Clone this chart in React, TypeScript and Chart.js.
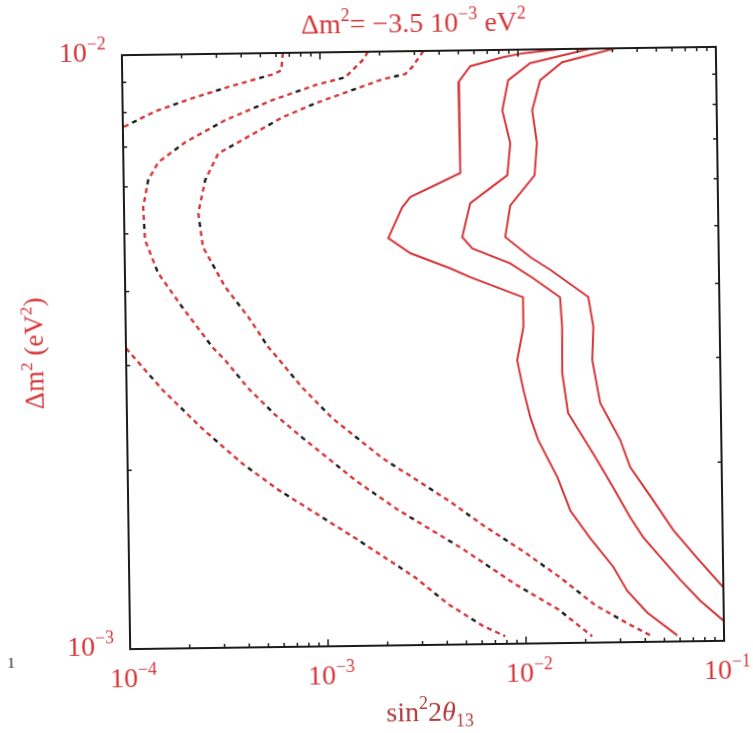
import React, { useEffect, useRef } from "react";
import { Chart, registerables } from "chart.js";

Chart.register(...registerables);

// Axis ranges and decade ticks
const X_MIN = 1e-4;
const X_MAX = 1e-1;
const Y_MIN = 1e-3;
const Y_MAX = 1e-2;
const xTickValues = [1e-4, 1e-3, 1e-2, 1e-1];
const xTickExponents = ["−4", "−3", "−2", "−1"];
const yTickValues = [1e-3, 1e-2];
const yTickExponents = ["−3", "−2"];

// Dashed contours: [sin^2 2θ13, Δm^2]
const dashedOuterTop: [number, number][] = [
  [6.5e-4, 1e-2], [6.37e-4, 9.35e-3], [5.79e-4, 9.21e-3], [3.51e-4, 8.81e-3],
  [2.25e-4, 8.43e-3], [1.46e-4, 8.03e-3], [1e-4, 7.56e-3],
];
const dashedOuterBottom: [number, number][] = [
  [1e-4, 3.21e-3], [1.53e-4, 2.72e-3], [2.4e-4, 2.34e-3], [3.8e-4, 2.04e-3],
  [5.74e-4, 1.84e-3], [1.39e-3, 1.52e-3], [2.78e-3, 1.3e-3], [4.07e-3, 1.17e-3],
  [6.02e-3, 1.075e-3], [7.85e-3, 1.03e-3],
];
const dashedMiddle: [number, number][] = [
  [1.75e-3, 1e-2], [1.64e-3, 9.68e-3], [1.34e-3, 9.07e-3], [9.43e-4, 8.81e-3],
  [5.7e-4, 8.33e-3], [3.29e-4, 7.73e-3], [2.06e-4, 7.11e-3], [1.5e-4, 6.59e-3],
  [1.33e-4, 6.15e-3], [1.25e-4, 5.54e-3], [1.27e-4, 4.88e-3], [1.47e-4, 4.29e-3],
  [1.94e-4, 3.75e-3], [2.73e-4, 3.21e-3], [3.16e-4, 3.05e-3], [4.12e-4, 2.73e-3],
  [5.61e-4, 2.46e-3], [7.65e-4, 2.25e-3], [1.41e-3, 1.9e-3], [2.31e-3, 1.69e-3],
  [4.83e-3, 1.45e-3], [8.89e-3, 1.26e-3], [1.46e-2, 1.14e-3], [2.16e-2, 1.025e-3],
];
const dashedInner: [number, number][] = [
  [3.33e-3, 1e-2], [2.92e-3, 9.4e-3], [2.69e-3, 9.15e-3], [2.06e-3, 8.98e-3],
  [9.4e-4, 8.21e-3], [6.39e-4, 7.79e-3], [4.0e-4, 7.15e-3], [3.02e-4, 6.8e-3],
  [2.58e-4, 6.13e-3], [2.37e-4, 5.4e-3], [2.49e-4, 4.73e-3], [3.2e-4, 4.05e-3],
  [4.17e-4, 3.6e-3], [5.23e-4, 3.2e-3], [5.86e-4, 3.06e-3], [7.72e-4, 2.73e-3],
  [1.09e-3, 2.42e-3], [1.93e-3, 2.07e-3], [4.14e-3, 1.75e-3], [6.19e-3, 1.585e-3],
  [9.82e-3, 1.43e-3], [1.5e-2, 1.29e-3], [2.25e-2, 1.156e-3], [3.25e-2, 1.076e-3],
  [4.24e-2, 1.026e-3],
];

// Solid contours
const solidInner: [number, number][] = [
  [1.64e-2, 1e-2], [1.06e-2, 9.86e-3], [8.43e-3, 9.72e-3], [5.73e-3, 9.4e-3],
  [4.98e-3, 8.84e-3], [5.02e-3, 6.22e-3], [2.8e-3, 5.68e-3], [2.54e-3, 5.46e-3],
  [2.15e-3, 4.85e-3], [2.77e-3, 4.57e-3], [4.4e-3, 4.3e-3], [5.55e-3, 4.15e-3],
  [1.02e-2, 3.83e-3], [1.02e-2, 3.41e-3], [9.44e-3, 3.0e-3], [1.01e-2, 2.67e-3],
  [1.09e-2, 2.4e-3], [1.19e-2, 2.2e-3], [1.48e-2, 1.9e-3], [1.71e-2, 1.67e-3],
  [2.14e-2, 1.5e-3], [2.79e-2, 1.34e-3], [3.27e-2, 1.22e-3], [4.11e-2, 1.12e-3],
  [5.81e-2, 1.024e-3],
];
const solidMiddle: [number, number][] = [
  [2.32e-2, 1e-2], [1.15e-2, 9.48e-3], [8.9e-3, 8.89e-3], [8.26e-3, 7.91e-3],
  [9.02e-3, 6.96e-3], [8.67e-3, 6.15e-3], [5.61e-3, 5.53e-3], [5.08e-3, 4.85e-3],
  [5.7e-3, 4.64e-3], [8.84e-3, 4.37e-3], [1.15e-2, 4.12e-3], [1.57e-2, 3.82e-3],
  [1.6e-2, 3.4e-3], [1.59e-2, 2.85e-3], [1.69e-2, 2.44e-3], [2.25e-2, 2.08e-3],
  [2.83e-2, 1.82e-3], [3.43e-2, 1.62e-3], [3.97e-2, 1.5e-3], [4.82e-2, 1.39e-3],
  [6.07e-2, 1.27e-3], [7.62e-2, 1.17e-3], [1e-1, 1.08e-3],
];
const solidOuter: [number, number][] = [
  [3.1e-2, 1e-2], [1.67e-2, 9.5e-3], [1.29e-2, 8.87e-3], [1.17e-2, 7.9e-3],
  [1.23e-2, 6.95e-3], [1.19e-2, 6.14e-3], [8.93e-3, 5.47e-3], [8.38e-3, 4.84e-3],
  [1.12e-2, 4.47e-3], [1.41e-2, 4.25e-3], [2.18e-2, 3.82e-3], [2.3e-2, 3.4e-3],
  [2.26e-2, 2.99e-3], [2.46e-2, 2.53e-3], [3.09e-2, 2.19e-3], [3.45e-2, 1.97e-3],
  [4.49e-2, 1.73e-3], [5.64e-2, 1.54e-3], [7.41e-2, 1.38e-3], [1e-1, 1.23e-3],
];

const RED = "#d6363a";
const INK = "#1d1a1a";
const SERIF = '"Liberation Serif", "DejaVu Serif", serif';

type Part = { t: string; sup?: boolean; sub?: boolean; it?: boolean };

function partFont(p: Part, size: number) {
  const s = p.sup || p.sub ? size * 0.64 : size;
  return `${p.it ? "italic " : ""}${s}px ${SERIF}`;
}

function measureParts(ctx: CanvasRenderingContext2D, parts: Part[], size: number) {
  let w = 0;
  for (const p of parts) {
    ctx.font = partFont(p, size);
    w += ctx.measureText(p.t).width;
  }
  return w;
}

function drawParts(
  ctx: CanvasRenderingContext2D,
  parts: Part[],
  x: number,
  y: number,
  size: number,
  align: "left" | "center" | "right"
) {
  const w = measureParts(ctx, parts, size);
  let cx = align === "center" ? x - w / 2 : align === "right" ? x - w : x;
  ctx.textAlign = "left";
  ctx.textBaseline = "alphabetic";
  for (const p of parts) {
    ctx.font = partFont(p, size);
    const dy = p.sup ? -size * 0.42 : p.sub ? size * 0.22 : 0;
    ctx.fillText(p.t, cx, y + dy);
    cx += ctx.measureText(p.t).width;
  }
}

const titleParts: Part[] = [
  { t: "Δm" }, { t: "2", sup: true }, { t: "= −3.5 10" }, { t: "−3", sup: true },
  { t: " eV" }, { t: "2", sup: true },
];
const xTitleParts: Part[] = [
  { t: "sin" }, { t: "2", sup: true }, { t: "2" }, { t: "θ", it: true }, { t: "13", sub: true },
];
const yTitleParts: Part[] = [
  { t: "Δm" }, { t: "2", sup: true }, { t: " (eV" }, { t: "2", sup: true }, { t: ")" },
];

const framePlugin = {
  id: "frameAndLabels",
  afterDraw(chart: any) {
    const ctx: CanvasRenderingContext2D = chart.ctx;
    const { left, right, top, bottom } = chart.chartArea;
    const xs = chart.scales.x;
    const ys = chart.scales.y;
    ctx.save();

    // frame
    ctx.strokeStyle = INK;
    ctx.lineWidth = 2;
    ctx.strokeRect(left, top, right - left, bottom - top);

    // inward log ticks
    ctx.lineWidth = 1.5;
    ctx.beginPath();
    for (let d = -4; d <= -2; d++) {
      for (let m = 1; m <= 9; m++) {
        const v = m * Math.pow(10, d);
        const px = xs.getPixelForValue(v);
        const len = m === 1 ? 7 : 4;
        ctx.moveTo(px, bottom);
        ctx.lineTo(px, bottom - len);
        ctx.moveTo(px, top);
        ctx.lineTo(px, top + len);
      }
    }
    for (let m = 1; m <= 9; m++) {
      const v = m * 1e-3;
      const py = ys.getPixelForValue(v);
      const len = m === 1 ? 7 : 4;
      ctx.moveTo(left, py);
      ctx.lineTo(left + len, py);
      ctx.moveTo(right, py);
      ctx.lineTo(right - len, py);
    }
    ctx.stroke();

    // tick labels
    ctx.fillStyle = RED;
    xTickValues.forEach((v, i) => {
      const px = xs.getPixelForValue(v);
      drawParts(ctx, [{ t: "10" }, { t: xTickExponents[i], sup: true }], px + 3, bottom + 38, 28, "center");
    });
    yTickValues.forEach((v, i) => {
      const py = ys.getPixelForValue(v);
      drawParts(ctx, [{ t: "10" }, { t: yTickExponents[i], sup: true }], left - 16, py + 6, 28, "right");
    });

    // title
    ctx.fillStyle = RED;
    drawParts(ctx, titleParts, 418, 32, 28, "center");

    // x-axis title
    ctx.fillStyle = "#b03a3c";
    drawParts(ctx, xTitleParts, 425, 721, 28, "center");

    // y-axis title
    ctx.save();
    ctx.translate(43, (top + bottom) / 2);
    ctx.rotate(-Math.PI / 2);
    ctx.fillStyle = RED;
    drawParts(ctx, yTitleParts, 0, 0, 27, "center");
    ctx.restore();

    // stray page mark at the far left
    ctx.fillStyle = INK;
    ctx.font = `15px ${SERIF}`;
    ctx.textAlign = "left";
    ctx.fillText("1", 3, 662);

    ctx.restore();
  },
};

function toPoints(arr: [number, number][]) {
  return arr.map(([x, y]) => ({ x, y }));
}

function dashedPair(arr: [number, number][]) {
  // mostly red dashes with an occasional black one
  return [
    {
      data: toPoints(arr),
      borderColor: RED,
      borderWidth: 2.4,
      borderDash: [5, 4, 5, 4, 5, 4, 5, 13],
    },
    {
      data: toPoints(arr),
      borderColor: INK,
      borderWidth: 2.4,
      borderDash: [5, 40],
      borderDashOffset: 9,
    },
  ];
}

function solid(arr: [number, number][]) {
  return { data: toPoints(arr), borderColor: RED, borderWidth: 2 };
}

export default function App() {
  const canvasRef = useRef<HTMLCanvasElement | null>(null);

  useEffect(() => {
    const canvas = canvasRef.current;
    if (!canvas) return;
    const chart = new Chart(canvas, {
      type: "scatter",
      data: {
        datasets: [
          ...dashedPair(dashedOuterTop),
          ...dashedPair(dashedOuterBottom),
          ...dashedPair(dashedMiddle),
          ...dashedPair(dashedInner),
          solid(solidInner),
          solid(solidMiddle),
          solid(solidOuter),
        ].map((d: any) => ({
          ...d,
          showLine: true,
          pointRadius: 0,
          tension: 0,
          fill: false,
        })),
      },
      options: {
        animation: false,
        responsive: false,
        devicePixelRatio: 1,
        layout: { padding: { left: 126, top: 51, right: 33, bottom: 88 } },
        plugins: { legend: { display: false }, tooltip: { enabled: false } },
        events: [],
        scales: {
          x: { type: "logarithmic", min: X_MIN, max: X_MAX, display: false },
          y: { type: "logarithmic", min: Y_MIN, max: Y_MAX, display: false },
        },
      },
      plugins: [framePlugin],
    });
    return () => chart.destroy();
  }, []);

  return (
    <div style={{ position: "absolute", left: 0, top: 0, width: 753, height: 733, background: "#fff", overflow: "hidden" }}>
      <canvas
        ref={canvasRef}
        width={753}
        height={733}
        style={{
          display: "block",
          width: 753,
          height: 733,
          transform: "rotate(-0.8deg)",
          transformOrigin: "423px 348px",
        }}
      />
    </div>
  );
}
